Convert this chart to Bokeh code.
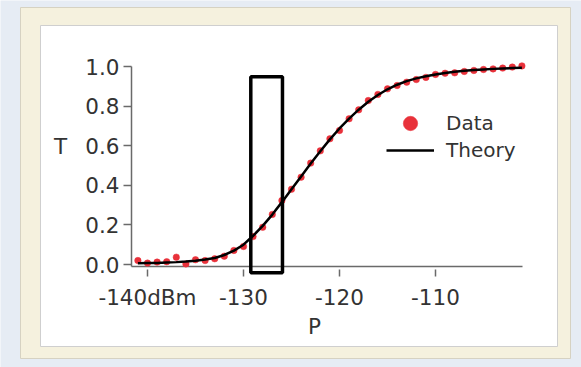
from bokeh.plotting import figure
from bokeh.models import (FixedTicker, NumeralTickFormatter, Legend, LegendItem,
                          Label, LinearAxis, Range1d)
from bokeh.embed import file_html
from bokeh.resources import INLINE

# ---------------- data ----------------
power_dbm = [-141, -140, -139, -138, -137, -136, -135, -134, -133, -132,
             -131, -130, -129, -128, -127, -126, -125, -124, -123, -122,
             -121, -120, -119, -118, -117, -116, -115, -114, -113, -112,
             -111, -110, -109, -108, -107, -106, -105, -104, -103, -102, -101]

data_t = [0.020, 0.007, 0.012, 0.014, 0.037, 0.003, 0.024, 0.020, 0.029, 0.042,
          0.071, 0.091, 0.141, 0.188, 0.253, 0.323, 0.380, 0.441, 0.512, 0.574,
          0.635, 0.677, 0.736, 0.781, 0.828, 0.859, 0.887, 0.904, 0.921, 0.934,
          0.945, 0.960, 0.966, 0.968, 0.975, 0.980, 0.985, 0.988, 0.992, 0.997, 1.003]

theory_t = [0.006, 0.007, 0.008, 0.010, 0.012, 0.015, 0.019, 0.025, 0.033, 0.048,
            0.070, 0.100, 0.145, 0.195, 0.252, 0.315, 0.380, 0.445, 0.510, 0.572,
            0.632, 0.687, 0.737, 0.782, 0.822, 0.856, 0.885, 0.908, 0.926, 0.940,
            0.951, 0.960, 0.967, 0.973, 0.978, 0.982, 0.985, 0.988, 0.990, 0.992, 0.994]

x_ticks = [-140, -130, -120, -110]
x_tick_labels = ["-140dBm", "-130", "-120", "-110"]
y_ticks = [0.0, 0.2, 0.4, 0.6, 0.8, 1.0]

# highlighted window (dBm / T)
box_left = [-129.24]
box_right = [-125.94]
box_top = [0.948]
box_bottom = [-0.042]

# ---------------- page layout (pixels) ----------------
W, H = 581, 367
PX_AT_M140 = 147.0    # page x of -140 dBm
PX_PER_DB = 9.6
PY_AT_T0 = 264.0      # page y of T = 0
PX_PER_T = 198.0


def px2x(px):
    return -140.0 + (px - PX_AT_M140) / PX_PER_DB


def py2t(py):
    return (PY_AT_T0 - py) / PX_PER_T


FONT = "DejaVu Sans"
TXT = "#333333"
AXC = "#6a6a6a"
RED = "#e8313a"
BLUE_BG = "#e6ecf4"
BEIGE = "#f5f1de"

p = figure(width=W, height=H, output_backend="svg", toolbar_location=None,
           x_range=Range1d(px2x(0), px2x(W)), y_range=Range1d(py2t(H), py2t(0)),
           x_axis_location=None, y_axis_location=None,
           min_border=0, min_border_left=0, min_border_right=0,
           min_border_top=0, min_border_bottom=0,
           background_fill_color=BLUE_BG, border_fill_color=BLUE_BG,
           outline_line_color=None)
p.grid.visible = False

# panels: beige frame and white card
p.quad(left=[px2x(20)], right=[px2x(570)], top=[py2t(7)], bottom=[py2t(358)],
       fill_color=BEIGE, line_color="#d6d2c2", line_width=1)
p.quad(left=[px2x(40)], right=[px2x(557)], top=[py2t(25)], bottom=[py2t(346)],
       fill_color="white", line_color="#cfcfcf", line_width=1)

# axis lines (axis spans only the data area, like the original)
ax_x = px2x(131)
ax_y = py2t(266)
p.segment(x0=[ax_x], y0=[ax_y], x1=[ax_x], y1=[y_ticks[-1]],
          line_color=AXC, line_width=1.5)
p.segment(x0=[ax_x], y0=[ax_y], x1=[px2x(522)], y1=[ax_y],
          line_color=AXC, line_width=1.5)

# x axis
xa = LinearAxis(fixed_location=py2t(269))
xa.ticker = FixedTicker(ticks=x_ticks)
xa.major_label_overrides = dict(zip(x_ticks, x_tick_labels))
xa.axis_line_color = None
xa.major_tick_in = 0
xa.major_tick_out = 7
xa.minor_tick_line_color = None
xa.major_tick_line_color = AXC
xa.major_tick_line_width = 1.5
xa.major_label_text_font = FONT
xa.major_label_text_font_size = "21.5px"
xa.major_label_text_color = TXT
xa.major_label_standoff = 8
p.add_layout(xa, "below")

# y axis
ya = LinearAxis(fixed_location=ax_x)
ya.ticker = FixedTicker(ticks=y_ticks)
ya.formatter = NumeralTickFormatter(format="0.0")
ya.axis_line_color = None
ya.major_tick_in = 0
ya.major_tick_out = 8
ya.minor_tick_line_color = None
ya.major_tick_line_color = AXC
ya.major_tick_line_width = 1.5
ya.major_label_text_font = FONT
ya.major_label_text_font_size = "21.5px"
ya.major_label_text_color = TXT
ya.major_label_standoff = 4
p.add_layout(ya, "left")

# data + theory
sc = p.scatter(power_dbm, data_t, size=6.5, fill_color=RED, line_color=RED, line_width=0.5)
ln = p.line(power_dbm, theory_t, line_color="black", line_width=2.5)

# window
p.quad(left=box_left, right=box_right, top=box_top, bottom=box_bottom,
       fill_color=None, line_color="black", line_width=3.5)

# axis titles
p.add_layout(Label(x=px2x(60), y=py2t(146), text="T", text_align="center",
                   text_baseline="middle", text_font=FONT,
                   text_font_size="21.5px", text_color=TXT))
p.add_layout(Label(x=px2x(314), y=py2t(326), text="P", text_align="center",
                   text_baseline="middle", text_font=FONT,
                   text_font_size="21.5px", text_color=TXT))

# legend (two single-row legends so the marker and line rows sit like the original)
common = dict(glyph_width=48, label_standoff=12, padding=0, margin=0,
              border_line_color=None, background_fill_alpha=0,
              label_text_font=FONT, label_text_font_size="20px",
              label_text_color=TXT)
leg1 = Legend(items=[LegendItem(label="Data", renderers=[sc])],
              location=(386, H - 141), glyph_height=36, label_height=36, **common)
leg2 = Legend(items=[LegendItem(label="Theory", renderers=[ln])],
              location=(386, H - 164), glyph_height=28, label_height=28, **common)
p.add_layout(leg1)
p.add_layout(leg2)

html = file_html(p, INLINE)
open("out.html", "w").write(html)
